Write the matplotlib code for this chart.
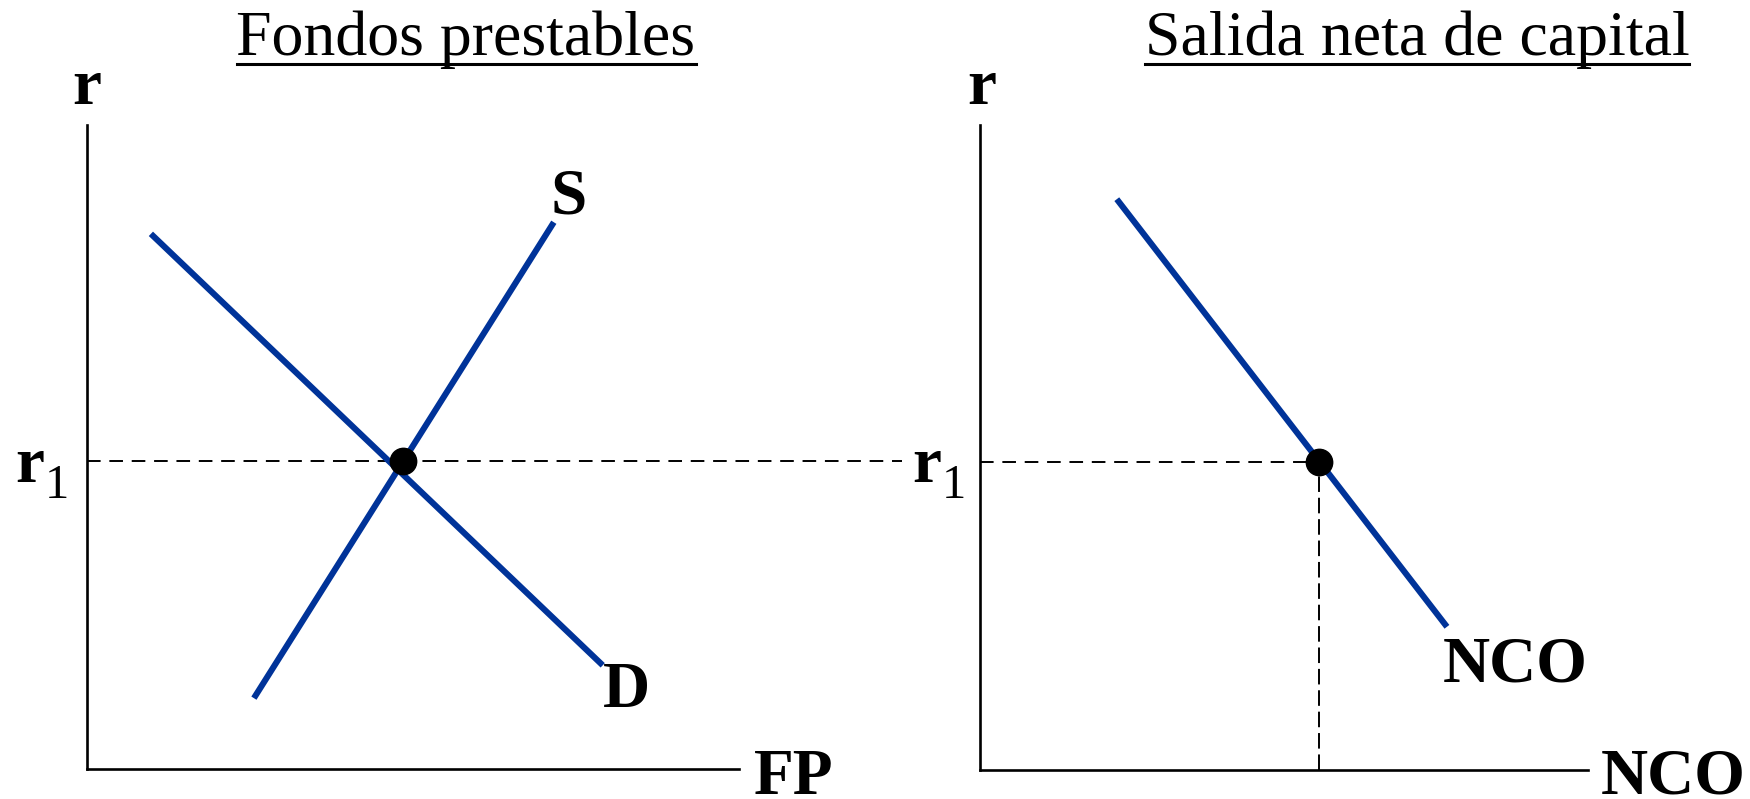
import matplotlib
matplotlib.use("Agg")
import matplotlib.pyplot as plt
from matplotlib.lines import Line2D

# ---------------- data ----------------
titles = ["Fondos prestables", "Salida neta de capital"]
x_axis_labels = ["FP", "NCO"]
y_axis_label = "r"
rate_label = "r"
rate_sub = "1"
r1 = 4.78                      # equilibrium interest rate (both panels)
demand_x = [0.98, 7.91]
demand_y = [8.31, 1.61]
supply_x = [2.56, 7.16]
supply_y = [1.10, 8.49]
eq_fp = 4.85                   # equilibrium loanable funds quantity
nco_x = [2.25, 7.68]
nco_y = [8.85, 2.22]
eq_nco = 5.58                  # NCO quantity at r1
curve_labels = ["S", "D", "NCO"]

# ---------------- style ----------------
W, H = 1750, 799
BLUE = "#003399"
SERIF = ["Liberation Serif", "DejaVu Serif"]
plt.rcParams["font.family"] = SERIF

fig = plt.figure(figsize=(W / 100, H / 100), dpi=100)


def fx(x):
    return x / W


def fy(y):
    return 1 - y / H


def make_axes(left, top, right, bottom):
    ax = fig.add_axes([fx(left), fy(bottom), fx(right) - fx(left), fy(top) - fy(bottom)])
    ax.set_xlim(0, 10)
    ax.set_ylim(0, 10)
    for s in ("top", "right"):
        ax.spines[s].set_visible(False)
    for s in ("left", "bottom"):
        ax.spines[s].set_linewidth(1.9)
    ax.set_xticks([])
    ax.set_yticks([])
    ax.patch.set_alpha(0)
    return ax


ax1 = make_axes(87, 125, 739, 769)
ax2 = make_axes(980, 125, 1588, 770)

dash_h = (0, (7, 4.5))
dash_v = (0, (8, 3))
LW = 4.4

# left panel
ax1.plot([0, 12.5], [r1, r1], color="black", lw=1.4, ls=dash_h, clip_on=False, zorder=1)
ax1.plot(demand_x, demand_y, color=BLUE, lw=LW, solid_capstyle="butt", zorder=2)
ax1.plot(supply_x, supply_y, color=BLUE, lw=LW, solid_capstyle="butt", zorder=2)
ax1.plot([eq_fp], [r1], "o", color="black", ms=19, zorder=3)

# right panel
ax2.plot([0, eq_nco], [r1, r1], color="black", lw=1.4, ls=dash_h, zorder=1)
ax2.plot([eq_nco, eq_nco], [0, r1], color="black", lw=1.4, ls=dash_v, zorder=1)
ax2.plot(nco_x, nco_y, color=BLUE, lw=LW, solid_capstyle="butt", zorder=2)
ax2.plot([eq_nco], [r1], "o", color="black", ms=19, zorder=3)

# ---------------- text ----------------
BOLD = dict(fontweight="bold", fontsize=47, color="black", ha="left", va="baseline")


def t(x, y, s, **kw):
    return fig.text(fx(x), fy(y), s, **kw)


# axis name labels
t(87, 104, y_axis_label, **{**BOLD, "ha": "center"})
t(982, 104, y_axis_label, **{**BOLD, "ha": "center"})
t(754, 794, x_axis_labels[0], **BOLD)
t(1601, 794, x_axis_labels[1], **BOLD)

# r1 labels
for xr, xs in ((15, 45), (912, 942)):
    t(xr, 482, rate_label, **BOLD)
    t(xs, 498, rate_sub, fontsize=35, ha="left", va="baseline")

# curve labels
t(550, 213, curve_labels[0], **BOLD)
t(603, 707, curve_labels[1], **BOLD)
t(1443, 682, curve_labels[2], **BOLD)

# titles with underline
title_objs = [
    t(466, 55, titles[0], fontsize=46, ha="center", va="baseline"),
    t(1417, 55, titles[1], fontsize=46, ha="center", va="baseline"),
]
fig.canvas.draw()
renderer = fig.canvas.get_renderer()
for obj in title_objs:
    bb = obj.get_window_extent(renderer)
    y_line = 1 - 64 / H
    fig.add_artist(Line2D([bb.x0 / W, bb.x1 / W], [y_line, y_line],
                          transform=fig.transFigure, color="black", lw=2.2))

fig.savefig("out.png", dpi=100)
